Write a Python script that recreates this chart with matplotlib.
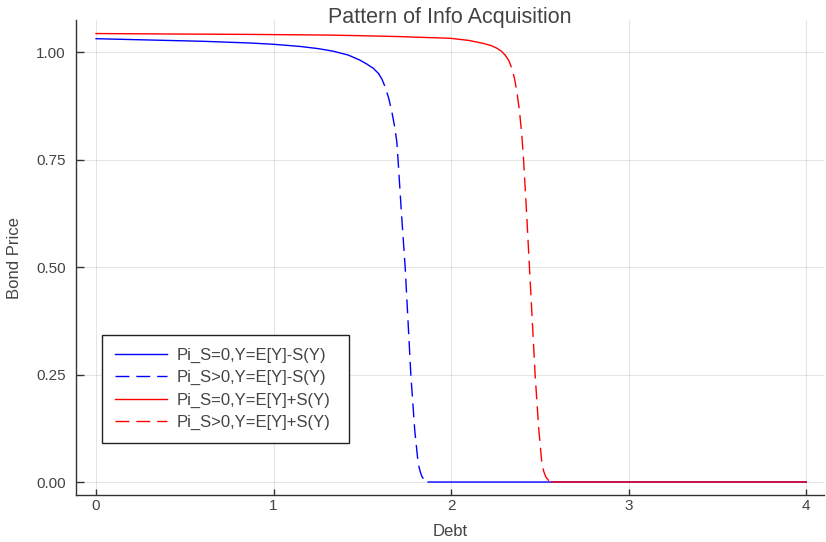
import numpy as np
import matplotlib.pyplot as plt

plt.rcParams["font.family"] = ["Liberation Sans", "DejaVu Sans"]

nan = np.nan

# Pi_S = 0, Y = E[Y] - S(Y): no acquisition region (two pieces, split by NaN)
blue_solid_x = [0.0, 0.3, 0.6, 0.868, 1.0, 1.149, 1.25, 1.335, 1.42, 1.487, 1.525, 1.562, 1.591,
                nan, 1.870, 2.5, 3.0, 4.0]
blue_solid_y = [1.031, 1.028, 1.025, 1.021, 1.018, 1.013, 1.008, 1.002, 0.993, 0.981, 0.972, 0.962, 0.950,
                nan, 0.0, 0.0, 0.0, 0.0]
# Pi_S > 0, Y = E[Y] - S(Y)
blue_dash_x = [1.591, 1.610, 1.628, 1.648, 1.666, 1.681, 1.694, 1.701, 1.720, 1.741, 1.757,
               1.773, 1.795, 1.814, 1.825, 1.835, 1.845, 1.854, 1.870]
blue_dash_y = [0.950, 0.937, 0.919, 0.893, 0.861, 0.828, 0.791, 0.749, 0.625, 0.500, 0.375,
               0.249, 0.120, 0.044, 0.025, 0.013, 0.007, 0.003, 0.0]

# Pi_S = 0, Y = E[Y] + S(Y)
red_solid_x = [0.0, 0.4, 0.868, 1.3, 1.487, 1.7, 1.994, 2.1, 2.182, 2.225, 2.257, 2.283, 2.304,
               nan, 2.567, 3.0, 3.5, 4.0]
red_solid_y = [1.043, 1.042, 1.041, 1.0395, 1.038, 1.036, 1.032, 1.027, 1.020, 1.015, 1.009, 1.002, 0.993,
               nan, 0.0, 0.0, 0.0, 0.0]
# Pi_S > 0, Y = E[Y] + S(Y)
red_dash_x = [2.304, 2.325, 2.342, 2.357, 2.370, 2.385, 2.398, 2.408, 2.425, 2.441, 2.457,
              2.473, 2.493, 2.511, 2.522, 2.533, 2.548, 2.567]
red_dash_y = [0.993, 0.980, 0.962, 0.938, 0.908, 0.862, 0.807, 0.749, 0.625, 0.499, 0.375,
              0.249, 0.125, 0.043, 0.024, 0.012, 0.004, 0.0]

xticks = [0, 1, 2, 3, 4]
yticks = [0.0, 0.25, 0.5, 0.75, 1.0]

W, H = 826, 542
fig = plt.figure(figsize=(W / 100, H / 100), dpi=100)
ax = fig.add_axes([76 / W, 1 - 495 / H, 748 / W, 475 / H])

dash = (0, (10, 5))
ax.plot(blue_solid_x, blue_solid_y, color="#0000ff", lw=1.0, label="Pi_S=0,Y=E[Y]-S(Y)")
ax.plot(blue_dash_x, blue_dash_y, color="#0000ff", lw=1.0, ls=dash, label="Pi_S>0,Y=E[Y]-S(Y)")
ax.plot(red_solid_x, red_solid_y, color="#ff0000", lw=1.0, label="Pi_S=0,Y=E[Y]+S(Y)")
ax.plot(red_dash_x, red_dash_y, color="#ff0000", lw=1.0, ls=dash, label="Pi_S>0,Y=E[Y]+S(Y)")

ax.set_xlim(-0.113, 4.10)
ax.set_ylim(-0.0302, 1.0745)
ax.set_xticks(xticks)
ax.set_xticklabels([str(t) for t in xticks])
ax.set_yticks(yticks)
ax.set_yticklabels([f"{t:.2f}" for t in yticks])

ax.grid(color="#000000", alpha=0.1, lw=0.8)
ax.set_axisbelow(True)
for side in ("top", "right"):
    ax.spines[side].set_visible(False)
for side in ("left", "bottom"):
    ax.spines[side].set_color("#333333")
    ax.spines[side].set_linewidth(1.0)
ax.tick_params(axis="both", direction="in", colors="#333333", labelcolor="#444444",
               labelsize=11, width=1.0)
ax.tick_params(axis="x", length=4, pad=3)
ax.tick_params(axis="y", length=6, pad=7.5)

txt = "#444444"
ax.text(0.5, 1.006, "Pattern of Info Acquisition", transform=ax.transAxes,
        ha="center", va="center", fontsize=15.5, color=txt)
fig.text(450 / W, 1 - 532 / H, "Debt", ha="center", va="center", fontsize=12, color=txt)
fig.text(15 / W, 1 - 258 / H, "Bond Price", ha="center", va="center", rotation=90,
         fontsize=12, color=txt)

x0, y0 = (102 - 76) / 748, (495 - 443) / 475
leg = ax.legend(loc="lower left", bbox_to_anchor=(x0, y0, (349 - 102) / 748, (443 - 334) / 475),
                mode="expand", fontsize=12, frameon=True, fancybox=False,
                edgecolor="#222222", framealpha=1, handlelength=3.1, handletextpad=0.55,
                labelspacing=0.42, borderpad=0.8, borderaxespad=0)
leg.get_frame().set_linewidth(1.0)
for t in leg.get_texts():
    t.set_color(txt)

fig.savefig("out.png", dpi=100)
